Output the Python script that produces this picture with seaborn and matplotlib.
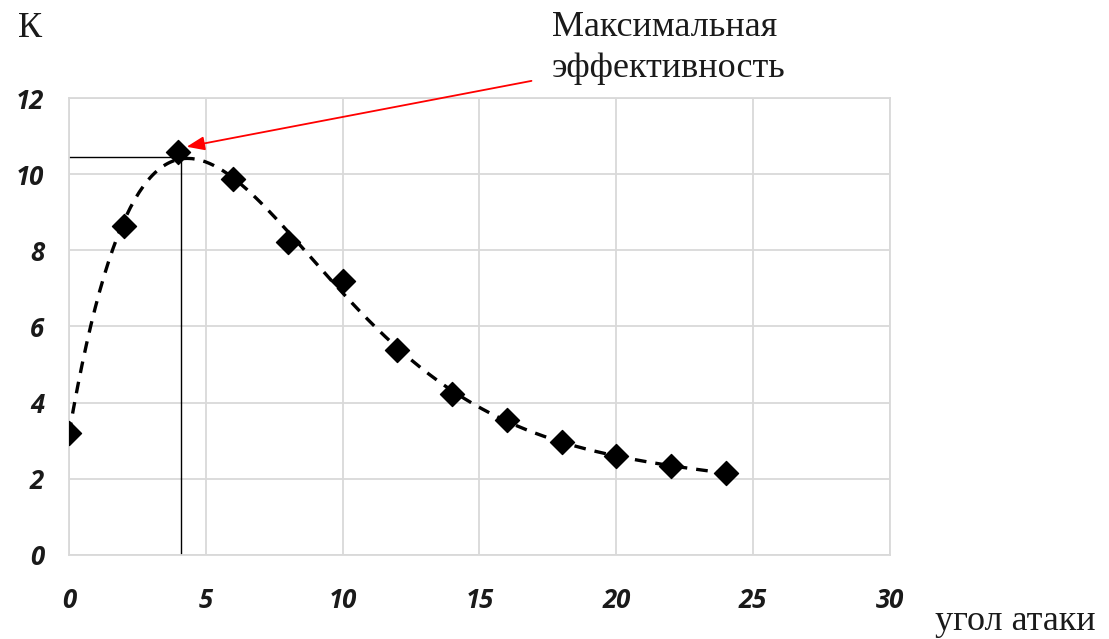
import numpy as np
import pandas as pd
import matplotlib
matplotlib.use("Agg")
import matplotlib.pyplot as plt
import seaborn as sns

# data
angle = [0, 2, 4, 6, 8, 10, 12, 14, 16, 18, 20, 22, 24]
K = [3.2, 8.65, 10.57, 9.87, 8.22, 7.2, 5.37, 4.23, 3.55, 2.97, 2.6, 2.34, 2.15]
x_ticks = [0, 5, 10, 15, 20, 25, 30]
y_ticks = [0, 2, 4, 6, 8, 10, 12]
max_x, max_y = 4.08, 10.45

sns.set_theme(style="white")
plt.rcParams['font.family'] = ['DejaVu Sans']

fig = plt.figure(figsize=(11.09, 6.39), dpi=100)
ax = fig.add_axes([0.0622, 0.1315, 0.7403, 0.7151])

df = pd.DataFrame({"angle": angle, "K": K})

# smoothed trend (polynomial fit of the data)
coef = np.polyfit(df["angle"], df["K"], 6)
xs = np.linspace(0, 24, 300)
trend = pd.DataFrame({"angle": xs, "K": np.polyval(coef, xs)})
sns.lineplot(data=trend, x="angle", y="K", ax=ax, color="black", lw=2.4,
             dashes=False, zorder=3)
ax.lines[-1].set_dashes((3.5, 2.7))

sns.scatterplot(data=df, x="angle", y="K", ax=ax, marker="D", s=150,
                color="black", edgecolor="black", zorder=4)

# guide lines to maximum
ax.plot([0, max_x], [max_y, max_y], color="black", lw=1.0, zorder=2)
ax.plot([max_x, max_x], [0, max_y], color="black", lw=1.0, zorder=2)

ax.set_xlim(0, 30)
ax.set_ylim(0, 12)
ax.set_xticks(x_ticks)
ax.set_yticks(y_ticks)
ax.grid(True, color="#d9d9d9", lw=1.3)
for s in ax.spines.values():
    s.set_color("#d9d9d9")
    s.set_linewidth(1.3)
ax.tick_params(length=0)
ax.tick_params(axis="x", pad=23)
ax.tick_params(axis="y", pad=18)
for lab in ax.get_xticklabels() + ax.get_yticklabels():
    lab.set_fontfamily("Open Sans")
    lab.set_fontweight("bold")
    lab.set_fontstyle("italic")
    lab.set_fontsize(18.5)
    lab.set_color("#1a1a1a")
ax.set_xlabel("")
ax.set_ylabel("")

serif = "Liberation Serif"
fs = 26
fig.text(18 / 1109, 1 - 37 / 639, "К", fontfamily=serif, fontsize=fs, color="#1a1a1a")
fig.text(552 / 1109, 1 - 36 / 639, "Максимальная", fontfamily=serif, fontsize=fs,
         color="#1a1a1a")
fig.text(552 / 1109, 1 - 77 / 639, "эффективность", fontfamily=serif, fontsize=fs,
         color="#1a1a1a")
fig.text(935 / 1109, 1 - 630 / 639, "угол атаки", fontfamily=serif, fontsize=fs,
         color="#1a1a1a")

ax.annotate("", xy=(4.3, 10.72), xytext=(16.9, 12.45), xycoords="data",
            textcoords="data", annotation_clip=False,
            arrowprops=dict(arrowstyle="-|>,head_length=0.9,head_width=0.35",
                            color="red", lw=1.3, shrinkA=0, shrinkB=0))

fig.savefig("out.png", dpi=100)
